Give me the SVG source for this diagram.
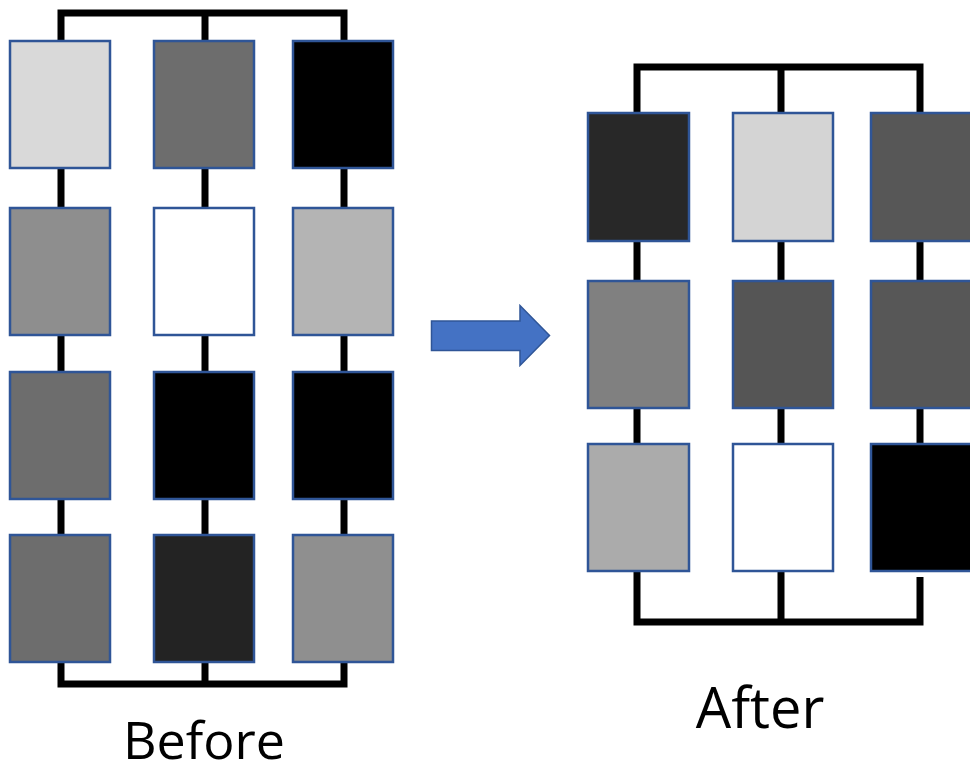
<svg xmlns="http://www.w3.org/2000/svg" width="970" height="764" viewBox="0 0 970 764">
<style>
.b{stroke:#2F5597;stroke-width:2.5}
.c{fill:none;stroke:#000;stroke-width:7;stroke-linejoin:miter;stroke-linecap:butt}
.t{font-family:"Open Sans","Noto Sans",sans-serif;fill:#000;text-anchor:middle}
</style>
<rect width="970" height="764" fill="#fff"/>
<g id="connectors">
<path class="c" d="M61,41 V13 H344 V41 M205,13 V41"/>
<path class="c" d="M61,168 V208 M205,168 V208 M344,168 V208"/>
<path class="c" d="M61,335 V372 M205,335 V372 M344,335 V372"/>
<path class="c" d="M61,499 V535 M205,499 V535 M344,499 V535"/>
<path class="c" d="M61,662 V684 H344 V662 M205,662 V684"/>
<path class="c" d="M637,113 V67 H920 V113 M781,67 V113"/>
<path class="c" d="M637,241 V281 M781,241 V281 M920,241 V281"/>
<path class="c" d="M637,408 V444 M781,408 V444 M920,408 V444"/>
<path class="c" d="M637,571 V622 H920 V577 M781,571 V622"/>
</g>
<g id="before">
<rect id="b11" class="b" x="10" y="41" width="100" height="127" fill="#D9D9D9"/>
<rect id="b12" class="b" x="154" y="41" width="100" height="127" fill="#6D6D6D"/>
<rect id="b13" class="b" x="293" y="41" width="100" height="127" fill="#000"/>
<rect id="b21" class="b" x="10" y="208" width="100" height="127" fill="#8E8E8E"/>
<rect id="b22" class="b" x="154" y="208" width="100" height="127" fill="#FFF"/>
<rect id="b23" class="b" x="293" y="208" width="100" height="127" fill="#B4B4B4"/>
<rect id="b31" class="b" x="10" y="372" width="100" height="127" fill="#6D6D6D"/>
<rect id="b32" class="b" x="154" y="372" width="100" height="127" fill="#000"/>
<rect id="b33" class="b" x="293" y="372" width="100" height="127" fill="#000"/>
<rect id="b41" class="b" x="10" y="535" width="100" height="127" fill="#6D6D6D"/>
<rect id="b42" class="b" x="154" y="535" width="100" height="127" fill="#232323"/>
<rect id="b43" class="b" x="293" y="535" width="100" height="127" fill="#8F8F8F"/>
</g>
<g id="after">
<rect id="a11" class="b" x="588" y="113" width="101" height="128" fill="#282828"/>
<rect id="a12" class="b" x="733" y="113" width="100" height="128" fill="#D4D4D4"/>
<rect id="a13" class="b" x="871" y="113" width="102" height="128" fill="#575757"/>
<rect id="a21" class="b" x="588" y="281" width="101" height="127" fill="#808080"/>
<rect id="a22" class="b" x="733" y="281" width="100" height="127" fill="#555555"/>
<rect id="a23" class="b" x="871" y="281" width="102" height="127" fill="#575757"/>
<rect id="a31" class="b" x="588" y="444" width="101" height="127" fill="#ABABAB"/>
<rect id="a32" class="b" x="733" y="444" width="100" height="127" fill="#FFF"/>
<rect id="a33" class="b" x="871" y="444" width="102" height="127" fill="#000"/>
</g>
<g id="arrow">
<polygon points="431.5,321 520,321 520,305.5 549.5,335.5 520,365.5 520,350.5 431.5,350.5" fill="#4472C4" stroke="#2F5597" stroke-width="1.5"/>
</g>
<g id="labels">
<text class="t" x="204" y="759" font-size="52">Before</text>
<text class="t" x="760" y="728" font-size="56">After</text>
</g>
</svg>
